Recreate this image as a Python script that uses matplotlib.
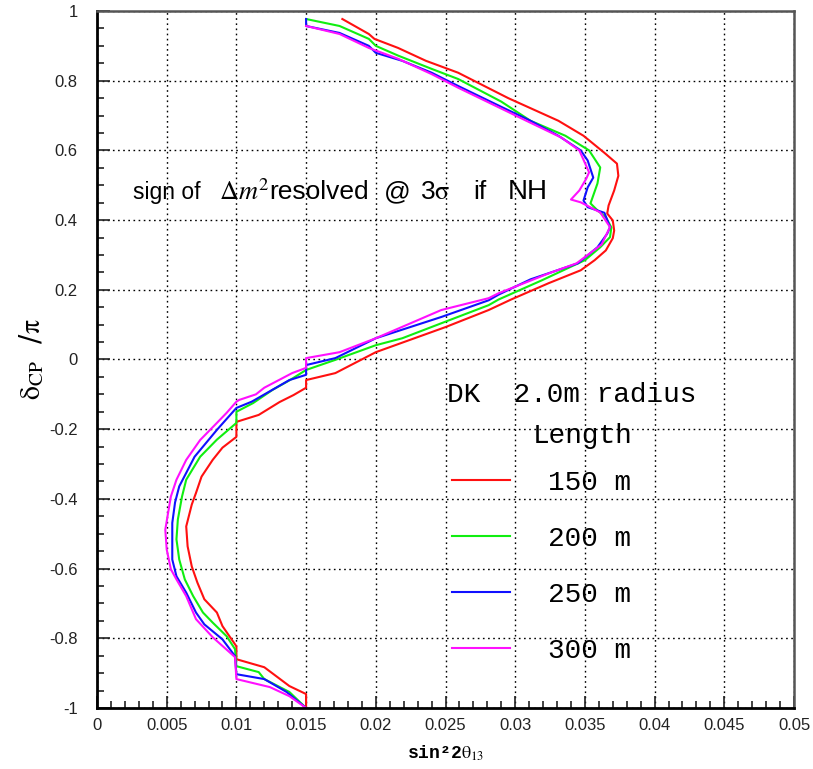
import numpy as np
import matplotlib
matplotlib.use('Agg')
import matplotlib.pyplot as plt
from matplotlib.ticker import MultipleLocator, FuncFormatter
from matplotlib.lines import Line2D

plt.rcParams['mathtext.fontset'] = 'stix'

# sin^2(2 theta13) vs delta_CP/pi contours, one per decay pipe length
x150 = [0.0176, 0.0195, 0.0199, 0.0216, 0.0236, 0.0259, 0.0295, 0.0331, 0.0349, 0.0364,
        0.0373, 0.0374, 0.0371, 0.0367, 0.0366, 0.0370, 0.0371, 0.0370, 0.0365, 0.0357,
        0.0347, 0.0324, 0.0297, 0.0281, 0.0250, 0.0200, 0.0171, 0.0150, 0.0150, 0.0141,
        0.0131, 0.0116, 0.0100, 0.0100, 0.0090, 0.0083, 0.0075, 0.0071, 0.0068, 0.0064,
        0.0065, 0.0068, 0.0072, 0.0077, 0.0086, 0.0090, 0.0095, 0.0100, 0.0100, 0.0120,
        0.0138, 0.0150, 0.0150]
y150 = [0.977, 0.934, 0.920, 0.894, 0.857, 0.823, 0.750, 0.685, 0.642, 0.593,
        0.562, 0.527, 0.485, 0.442, 0.419, 0.399, 0.370, 0.348, 0.313, 0.285,
        0.256, 0.219, 0.172, 0.142, 0.093, 0.021, -0.039, -0.059, -0.081, -0.102,
        -0.122, -0.159, -0.179, -0.222, -0.253, -0.288, -0.336, -0.383, -0.416, -0.479,
        -0.536, -0.594, -0.640, -0.688, -0.726, -0.765, -0.794, -0.823, -0.860, -0.883,
        -0.937, -0.960, -1.0]

x200 = [0.0150, 0.0174, 0.0195, 0.0200, 0.0216, 0.0240, 0.0259, 0.0290, 0.0311, 0.0336,
        0.0353, 0.0361, 0.0359, 0.0354, 0.0359, 0.0365, 0.0369, 0.0368, 0.0361, 0.0350,
        0.0319, 0.0288, 0.0281, 0.0247, 0.0219, 0.0200, 0.0171, 0.0150, 0.0138, 0.0126,
        0.0112, 0.0100, 0.0100, 0.0086, 0.0074, 0.0064, 0.0061, 0.0058, 0.0057, 0.0059,
        0.0063, 0.0069, 0.0076, 0.0083, 0.0093, 0.0099, 0.0100, 0.0116, 0.0120, 0.0138,
        0.0150]
y200 = [0.977, 0.957, 0.920, 0.900, 0.872, 0.834, 0.805, 0.740, 0.685, 0.642,
        0.600, 0.551, 0.505, 0.448, 0.428, 0.408, 0.379, 0.351, 0.322, 0.285,
        0.227, 0.172, 0.156, 0.104, 0.061, 0.041, -0.001, -0.030, -0.060, -0.087,
        -0.125, -0.150, -0.182, -0.230, -0.279, -0.345, -0.393, -0.459, -0.516, -0.574,
        -0.631, -0.679, -0.726, -0.755, -0.794, -0.831, -0.880, -0.897, -0.917, -0.954,
        -1.0]

x250 = [0.0150, 0.0150, 0.0174, 0.0195, 0.0200, 0.0219, 0.0240, 0.0259, 0.0290, 0.0311,
        0.0331, 0.0347, 0.0352, 0.0356, 0.0352, 0.0349, 0.0352, 0.0364, 0.0368, 0.0366,
        0.0359, 0.0345, 0.0311, 0.0288, 0.0281, 0.0247, 0.0200, 0.0171, 0.0150, 0.0150,
        0.0138, 0.0111, 0.0100, 0.0086, 0.0070, 0.0059, 0.0056, 0.0054, 0.0054, 0.0057,
        0.0064, 0.0071, 0.0077, 0.0090, 0.0099, 0.0100, 0.0120, 0.0136, 0.0150]
y250 = [0.977, 0.957, 0.937, 0.900, 0.880, 0.857, 0.823, 0.785, 0.725, 0.685,
        0.642, 0.600, 0.571, 0.522, 0.494, 0.456, 0.437, 0.421, 0.380, 0.361,
        0.322, 0.276, 0.230, 0.186, 0.170, 0.122, 0.061, 0.004, -0.016, -0.044,
        -0.059, -0.121, -0.139, -0.202, -0.279, -0.364, -0.410, -0.469, -0.574, -0.622,
        -0.669, -0.726, -0.760, -0.803, -0.851, -0.903, -0.917, -0.954, -1.0]

x300 = [0.0150, 0.0174, 0.0195, 0.0216, 0.0240, 0.0259, 0.0290, 0.0308, 0.0333, 0.0346,
        0.0353, 0.0351, 0.0346, 0.0340, 0.0347, 0.0361, 0.0368, 0.0362, 0.0344, 0.0324,
        0.0288, 0.0281, 0.0247, 0.0200, 0.0174, 0.0150, 0.0150, 0.0140, 0.0120, 0.0114,
        0.0102, 0.0100, 0.0093, 0.0086, 0.0074, 0.0064, 0.0057, 0.0053, 0.0051, 0.0049,
        0.0050, 0.0053, 0.0057, 0.0064, 0.0071, 0.0083, 0.0099, 0.0100, 0.0124, 0.0138,
        0.0150]
y300 = [0.957, 0.934, 0.894, 0.863, 0.819, 0.780, 0.720, 0.685, 0.637, 0.600,
        0.537, 0.519, 0.485, 0.459, 0.451, 0.422, 0.380, 0.330, 0.276, 0.247,
        0.190, 0.176, 0.142, 0.061, 0.021, 0.004, -0.024, -0.039, -0.081, -0.100,
        -0.116, -0.121, -0.153, -0.182, -0.231, -0.288, -0.345, -0.393, -0.440, -0.488,
        -0.545, -0.602, -0.631, -0.679, -0.745, -0.797, -0.854, -0.917, -0.940, -0.966,
        -1.0]

lengths = ['150 m', '200 m', '250 m', '300 m']
colors = ['#ff1010', '#10ee10', '#1010ff', '#ff10ff']
xs = [x150, x200, x250, x300]
ys = [y150, y200, y250, y300]

fig = plt.figure(figsize=(8.13, 7.69), dpi=100)
ax = fig.add_axes([97/813, 61/769, 697/813, 697/769])

for x, y, c in zip(xs, ys, colors):
    ax.plot(x, y, color=c, lw=1.5)

ax.set_xlim(0, 0.05)
ax.set_ylim(-1, 1)
ax.xaxis.set_major_locator(MultipleLocator(0.005))
ax.xaxis.set_minor_locator(MultipleLocator(0.001))
ax.yaxis.set_major_locator(MultipleLocator(0.2))
ax.yaxis.set_minor_locator(MultipleLocator(0.05))
fmt = FuncFormatter(lambda v, p: '%g' % round(v, 4))
ax.xaxis.set_major_formatter(fmt)
ax.yaxis.set_major_formatter(fmt)
ax.tick_params(which='both', direction='in', top=False, right=False, width=1.2, color='#222')
ax.tick_params(which='major', length=9)
ax.tick_params(which='minor', length=5)
ax.tick_params(axis='x', pad=7)
ax.tick_params(axis='y', pad=14)
for lab in ax.get_xticklabels() + ax.get_yticklabels():
    lab.set_family('Liberation Sans')
    lab.set_fontsize(12)
    lab.set_color('#222')

ax.grid(which='major', color='black', ls=(0, (1.2, 2.5)), lw=1)
for s in ['left', 'bottom']:
    ax.spines[s].set_linewidth(2)
    ax.spines[s].set_color('black')
for s in ['top', 'right']:
    ax.spines[s].set_linewidth(1.8)
    ax.spines[s].set_color('#555')

ax.set_xlabel(r'sin²2$\mathrm{\theta}_{\mathrm{13}}$', family='Liberation Mono',
              fontweight='bold', fontsize=13, labelpad=8)
ax.set_ylabel(r'$\mathrm{\delta}_{\mathrm{CP}}$  /$\mathrm{\pi}$', fontsize=20, labelpad=2)

# annotation, set word by word to follow the wide spacing of the original
ann = [(133, 'sign of', 16.5), (219, r'$\mathit{\Delta m}^{2}$', 19), (269, 'resolved', 19),
       (384, '@', 19), (420, r'3$\mathrm{\sigma}$', 19), (473, 'if', 19), (508, 'NH', 20)]
for px, txt, fs in ann:
    fig.text(px/813, 1 - 192/769, txt, family='Liberation Sans', fontsize=fs,
             va='center', ha='left')

fig.text(447/813, 1 - 395/769, 'DK  2.0m radius', family='Liberation Mono', fontsize=20,
         va='center', ha='left')
fig.text(583/813, 1 - 436/769, 'Length', family='Liberation Mono', fontsize=20,
         va='center', ha='center')

handles = [Line2D([], [], color=c, lw=1.5) for c in colors]
ax.legend(handles, lengths, loc='upper left', bbox_to_anchor=(452/813, 1 - 470/769),
          bbox_transform=fig.transFigure, frameon=False, borderpad=0, borderaxespad=0,
          handlelength=2.1, handletextpad=1.35, labelspacing=1.08,
          prop={'family': 'Liberation Mono', 'size': 20})

fig.savefig('out.png', dpi=100)
